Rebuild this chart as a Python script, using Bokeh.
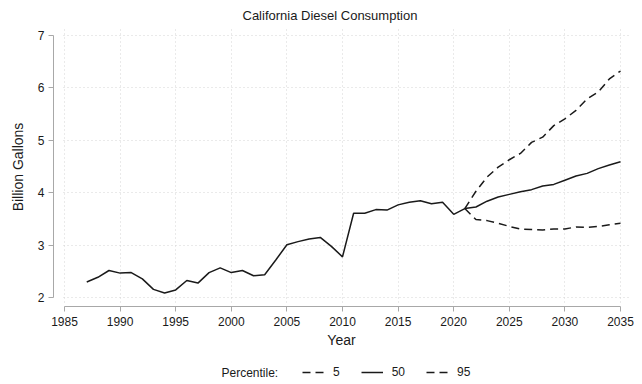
from bokeh.plotting import figure
from bokeh.layouts import column
from bokeh.models import (Range1d, FixedTicker, Legend, LegendItem, Title,
                          Label)
from bokeh.embed import file_html
from bokeh.resources import INLINE

# Historical consumption (billion gallons), 1987-2020
hist_years = list(range(1987, 2021))
hist_values = [2.30, 2.39, 2.52, 2.47, 2.48, 2.36, 2.16, 2.09, 2.15, 2.33,
               2.28, 2.48, 2.57, 2.48, 2.52, 2.42, 2.44, 2.72, 3.01, 3.07,
               3.12, 3.15, 2.98, 2.78, 3.61, 3.61, 3.68, 3.67, 3.77, 3.82,
               3.85, 3.79, 3.82, 3.59]

# Projection percentiles, 2021-2035
proj_years = list(range(2021, 2036))
p5 = [3.70, 3.49, 3.47, 3.42, 3.36, 3.31, 3.30, 3.29, 3.31, 3.31,
      3.35, 3.34, 3.36, 3.39, 3.42]
p50 = [3.70, 3.73, 3.84, 3.92, 3.97, 4.02, 4.06, 4.13, 4.16, 4.24,
       4.32, 4.37, 4.46, 4.53, 4.59]
p95 = [3.70, 4.03, 4.30, 4.49, 4.63, 4.75, 4.96, 5.06, 5.28, 5.41,
       5.57, 5.79, 5.92, 6.17, 6.32]

percentile_labels = ["5", "50", "95"]
x_ticks = list(range(1985, 2036, 5))
y_ticks = [2, 3, 4, 5, 6, 7]

FONT = "Liberation Sans"
INK = "#1a1a1a"
AXIS = "#a8a8a8"
GRID = "#d4d4d4"
DASH = "8 5"
W = 642
KEY_H = 30
LEFT, RIGHT = 53, 13

p = figure(width=W, height=384 - KEY_H, output_backend="svg",
           toolbar_location=None,
           x_range=Range1d(1984.01, 2035.81), y_range=Range1d(1.834, 7.149),
           min_border_left=LEFT, min_border_right=RIGHT, min_border_top=27,
           min_border_bottom=48, outline_line_color=None,
           background_fill_color="white", border_fill_color="white")

p.title = Title(text="California Diesel Consumption", align="left",
                offset=189, text_font=FONT, text_font_size="13px",
                text_font_style="normal", text_color=INK, standoff=9)

# axes
for ax in (p.xaxis[0], p.yaxis[0]):
    ax.axis_line_color = AXIS
    ax.major_tick_line_color = AXIS
    ax.minor_tick_line_color = None
    ax.major_tick_in = 0
    ax.major_tick_out = 5
    ax.major_label_text_font = FONT
    ax.major_label_text_font_size = "12px"
    ax.major_label_text_color = INK
    ax.axis_label_text_font = FONT
    ax.axis_label_text_font_size = "14px"
    ax.axis_label_text_font_style = "normal"
    ax.axis_label_text_color = INK

p.xaxis.ticker = FixedTicker(ticks=x_ticks)
p.xaxis.bounds = (1985, 2035)
p.xaxis.axis_label = "Year"
p.xaxis.major_label_standoff = 5
p.xaxis.axis_label_standoff = 3

p.yaxis.ticker = FixedTicker(ticks=y_ticks)
p.yaxis.bounds = (2, 7)
p.yaxis.axis_label = "Billion Gallons"
p.yaxis.major_label_standoff = 4
p.yaxis.axis_label_standoff = 9
p.yaxis.major_label_orientation = "horizontal"

# dotted grid
p.xgrid.ticker = FixedTicker(ticks=x_ticks)
p.ygrid.ticker = FixedTicker(ticks=y_ticks)
for g in (p.xgrid[0], p.ygrid[0]):
    g.grid_line_color = GRID
    g.grid_line_dash = "1 3"
    g.grid_line_width = 1
try:
    p.xgrid[0].cross_bounds = (1.915, 7.149)
    p.ygrid[0].cross_bounds = (1984.9, 2035.75)
except AttributeError:
    pass

series = [p5, p50, p95]
styles = [DASH, "solid", DASH]

p.line(hist_years + proj_years, hist_values + p50, line_color=INK,
       line_width=1.5)
p.line(proj_years, p5, line_color=INK, line_width=1.5, line_dash=DASH)
p.line(proj_years, p95, line_color=INK, line_width=1.5, line_dash=DASH)

# key strip below the chart: hidden copies of the series feed the legend
key = figure(width=W, height=KEY_H, output_backend="svg",
             toolbar_location=None, x_axis_type=None, y_axis_type=None,
             x_range=Range1d(1984.01, 2035.81), y_range=Range1d(0, 1),
             min_border_left=LEFT, min_border_right=RIGHT,
             min_border_top=0, min_border_bottom=0,
             outline_line_color=None,
             background_fill_color="white", border_fill_color="white")
key_items = []
for lab, vals, dash in zip(percentile_labels, series, styles):
    r = key.line(proj_years, vals, line_color=INK, line_width=1.5,
                 line_dash=dash, visible=False)
    key_items.append(LegendItem(label=lab, renderers=[r]))

key.add_layout(Label(x=221 - LEFT, y=12, x_units="screen", y_units="screen",
                     text="Percentile:", text_font=FONT,
                     text_font_size="12px", text_color=INK,
                     text_align="left", text_baseline="middle"))
legend = Legend(items=key_items, orientation="horizontal",
                location=(302 - LEFT, 4),
                label_text_font=FONT, label_text_font_size="12px",
                label_text_color=INK, label_height=16, label_width=0,
                glyph_width=22, glyph_height=16,
                label_standoff=9, spacing=21, padding=0, margin=0,
                border_line_color=None, background_fill_alpha=0,
                inactive_fill_alpha=0)
key.add_layout(legend)

layout = column(p, key, spacing=0)
open("out.html", "w").write(file_html(layout, INLINE))
